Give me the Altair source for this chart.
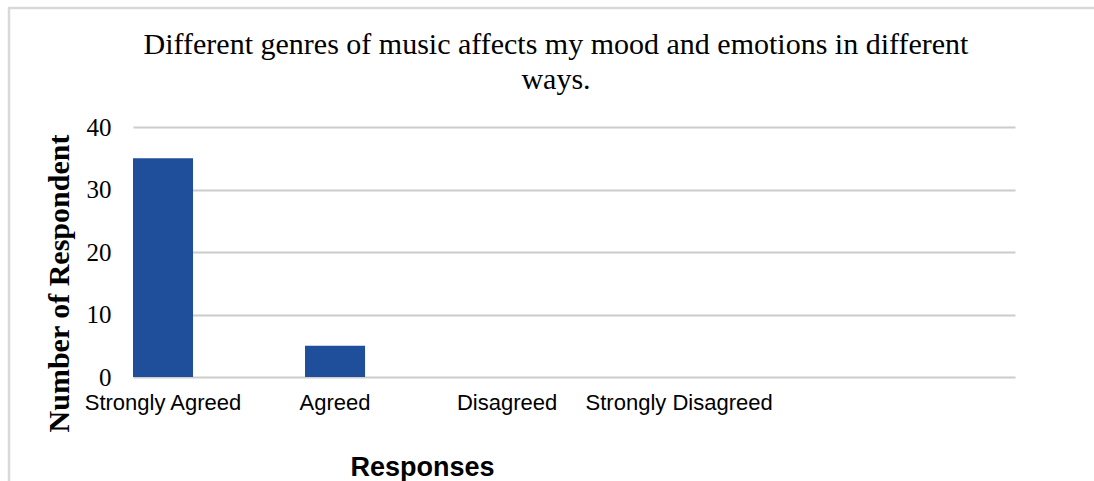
import altair as alt
import pandas as pd

# Survey answers and how many respondents chose each
responses = ["Strongly Agreed", "Agreed", "Disagreed", "Strongly Disagreed"]
respondents = [35, 5, 0, 0]
y_ticks = [0, 10, 20, 30, 40]
title_lines = [
    "Different genres of music affects my mood and emotions in different",
    "ways.",
]

SERIF = "Liberation Serif"
SANS = "Liberation Sans"
BAR_BLUE = "#1F4E9A"
GRID_GREY = "#cccccc"
FRAME_GREY = "#d9d9d9"

df = pd.DataFrame({"Response": responses, "Count": respondents})

x_scale = alt.Scale(domain=responses, paddingInner=0.651, paddingOuter=0.889, align=0)

bars = alt.Chart(df).mark_bar(color=BAR_BLUE).encode(
    x=alt.X(
        "Response:N",
        scale=x_scale,
        sort=responses,
        axis=alt.Axis(
            title="Responses",
            labelAngle=0,
            labelFont=SANS,
            labelFontSize=22,
            labelColor="#000000",
            labelPadding=15,
            labelLimit=0,
            ticks=False,
            domain=False,
            titleFont=SANS,
            titleFontSize=27,
            titleFontWeight="bold",
            titleColor="#000000",
            titleX=289,
            titleY=98,
            titleAlign="center",
            titleBaseline="alphabetic",
        ),
    ),
    y=alt.Y(
        "Count:Q",
        scale=alt.Scale(domain=[0, 40]),
        axis=alt.Axis(
            values=y_ticks,
            title="Number of Respondent",
            labelFont=SERIF,
            labelFontSize=25,
            labelColor="#000000",
            labelPadding=22,
            ticks=False,
            domain=False,
            grid=True,
            gridColor=GRID_GREY,
            gridWidth=2,
            titleFont=SERIF,
            titleFontSize=30,
            titleFontWeight="bold",
            titleColor="#000000",
            titleAngle=270,
            titleX=-65,
            titleY=156,
            titleAlign="center",
            titleBaseline="alphabetic",
        ),
    ),
)

# Light frame along the top and left edges of the figure
frame_src = pd.DataFrame({"k": [0]})
frame_top = alt.Chart(frame_src).mark_rule(color=FRAME_GREY, strokeWidth=2.5).encode(
    x=alt.value(-125), x2=alt.value(961), y=alt.value(-119)
)
frame_left = alt.Chart(frame_src).mark_rule(color=FRAME_GREY, strokeWidth=2.5).encode(
    x=alt.value(-124), y=alt.value(-119), y2=alt.value(354)
)

chart = (
    alt.layer(bars, frame_top, frame_left)
    .properties(
        width=882,
        height=250,
        autosize=alt.AutoSizeParams(type="none"),
        padding={"left": 133, "top": 127, "right": 79, "bottom": 104},
        title=alt.Title(
            title_lines,
            font=SERIF,
            fontSize=30,
            fontWeight="normal",
            color="#000000",
            anchor="middle",
            frame="group",
            baseline="alphabetic",
            dx=-18,
            lineHeight=35,
            offset=-112,
        ),
    )
    .configure(background="#ffffff")
    .configure_view(stroke=None)
)

chart.save("out.html", embed_options={"renderer": "svg", "actions": False})
